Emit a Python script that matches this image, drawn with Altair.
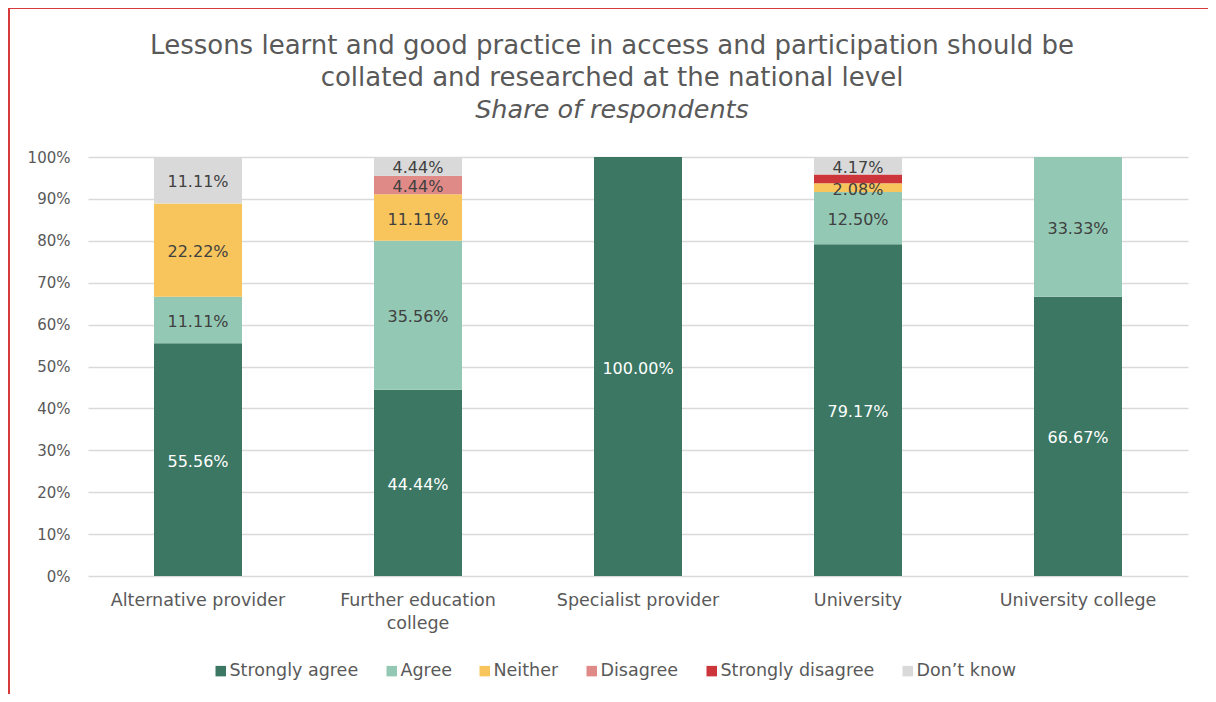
import altair as alt
import pandas as pd

categories = ["Alternative provider", "Further education college", "Specialist provider",
              "University", "University college"]
responses = ["Strongly agree", "Agree", "Neither", "Disagree", "Strongly disagree", "Don\u2019t know"]
colors = ["#3b7763", "#93c9b4", "#f8c55c", "#e08a87", "#cc3539", "#d9d9d9"]

strongly_agree = [0.5556, 0.4444, 1.0000, 0.7917, 0.6667]
agree = [0.1111, 0.3556, 0.0, 0.1250, 0.3333]
neither = [0.2222, 0.1111, 0.0, 0.0208, 0.0]
disagree = [0.0, 0.0444, 0.0, 0.0, 0.0]
strongly_disagree = [0.0, 0.0, 0.0, 0.0208, 0.0]
dont_know = [0.1111, 0.0444, 0.0, 0.0417, 0.0]
series = [strongly_agree, agree, neither, disagree, strongly_disagree, dont_know]
# labels Excel did not display
hidden_labels = [("University", "Strongly disagree")]

title_lines = ["Lessons learnt and good practice in access and participation should be",
               "collated and researched at the national level"]
subtitle = "Share of respondents"

rows = []
for ri, (resp, vals) in enumerate(zip(responses, series)):
    for cat, v in zip(categories, vals):
        rows.append({
            "category": cat, "response": resp, "value": v, "order": ri,
            "show": (v > 0) and ((cat, resp) not in hidden_labels),
            "white": ri == 0,
        })
df = pd.DataFrame(rows)

FONT = "DejaVu Sans"
GRAY = "#595959"

x_enc = alt.X("category:N", sort=categories, title=None,
              scale=alt.Scale(paddingInner=0.6, paddingOuter=0.3),
              axis=alt.Axis(labelAngle=0, labelFontSize=17.5, labelColor=GRAY, labelFont=FONT,
                            labelPadding=15, ticks=False, domain=False, labelLineHeight=23,
                            labelExpr="datum.value == 'Further education college' ? ['Further education', 'college'] : datum.value"))

bars = alt.Chart(df).mark_bar().encode(
    x=x_enc,
    y=alt.Y("value:Q", stack="zero", scale=alt.Scale(domain=[0, 1], nice=False), title=None,
            axis=alt.Axis(format=".0%", values=[i / 10 for i in range(11)], labelFontSize=15,
                          labelColor=GRAY, labelFont=FONT, labelPadding=18, ticks=False,
                          domain=False, grid=True, gridColor="#d9d9d9", gridWidth=1.3)),
    color=alt.Color("response:N", sort=responses,
                    scale=alt.Scale(domain=responses, range=colors),
                    legend=alt.Legend(title=None, orient="none", direction="horizontal",
                                      legendX=124, legendY=505, symbolType="square",
                                      symbolSize=110, symbolStrokeWidth=0, labelFontSize=17.5,
                                      labelColor=GRAY, labelFont=FONT, labelOffset=0,
                                      columnPadding=24)),
    order=alt.Order("order:Q", sort="ascending"),
)

labels = alt.Chart(df).transform_stack(
    stack="value", as_=["y0", "y1"], groupby=["category"],
    sort=[alt.SortField("order", order="ascending")]
).transform_filter("datum.show").transform_calculate(
    mid="(datum.y0 + datum.y1) / 2"
).mark_text(fontSize=16, font=FONT, baseline="middle", dy=2).encode(
    x=alt.X("category:N", sort=categories),
    y=alt.Y("mid:Q"),
    text=alt.Text("value:Q", format=".2%"),
    color=alt.condition("datum.white", alt.value("#ffffff"), alt.value("#404040")),
)

one = alt.Data(values=[{"a": 1}])
left_line = alt.Chart(one).mark_rule(color="#d63a3a", strokeWidth=2).encode(
    x=alt.value(-79), y=alt.value(-150), y2=alt.value(540))
top_line = alt.Chart(one).mark_rule(color="#d63a3a", strokeWidth=2).encode(
    y=alt.value(-149), x=alt.value(-80), x2=alt.value(1125))

def title_text(txt, y, size, italic=False):
    return alt.Chart(one).mark_text(
        text=txt, fontSize=size, font=FONT, color=GRAY, baseline="middle", align="center",
        fontStyle="italic" if italic else "normal"
    ).encode(x=alt.value(524), y=alt.value(y))

t1 = title_text(title_lines[0], -111, 26)
t2 = title_text(title_lines[1], -79, 26)
t3 = title_text(subtitle, -47, 25.5, italic=True)

chart = alt.layer(bars, labels, left_line, top_line, t1, t2, t3).properties(
    width=1100, height=419,
    autosize=alt.AutoSizeParams(type="none"),
    padding={"left": 80, "top": 149, "right": 20, "bottom": 118},
    background="white",
).configure_view(stroke=None)

chart.save("out.html", embed_options={"renderer": "svg", "actions": False})
